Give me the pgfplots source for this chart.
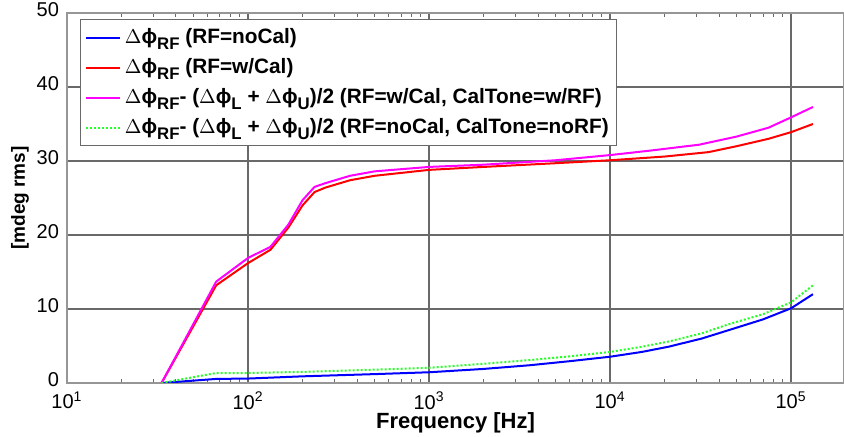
\documentclass[border=0pt]{standalone}
\usepackage{pgfplots}
\pgfplotsset{compat=1.18}
\usepackage{fontspec}
\setmainfont{Liberation Sans}
\newcommand\sub[1]{\raisebox{-0.5ex}{\fontsize{8.4}{9}\selectfont #1}}
\newcommand\dphi{\(\Delta\)}
\definecolor{gridgray}{RGB}{105,105,105}
\definecolor{boxgray}{RGB}{150,150,150}
\definecolor{lblue}{RGB}{0,0,255}
\definecolor{lred}{RGB}{255,0,0}
\definecolor{lmag}{RGB}{255,0,255}
\definecolor{lgreen}{RGB}{40,255,40}
\begin{document}
\begin{tikzpicture}
	\begin{axis}[name=ax, scale only axis, width=388.5pt, height=185pt,
		xmode=log, xmin=10, xmax=1.96e5, ymin=0, ymax=50,
		xtick={10,100,1000,10000,100000},
		xticklabels={10\textsuperscript{1},10\textsuperscript{2},10\textsuperscript{3},10\textsuperscript{4},10\textsuperscript{5}},
		ytick={0,10,20,30,40,50},
		minor xtick={20,30,40,50,60,70,80,90,200,300,400,500,600,700,800,900,2000,3000,4000,5000,6000,7000,8000,9000,20000,30000,40000,50000,60000,70000,80000,90000,200000},
		tick align=inside, major tick length=3.5pt, minor tick length=2.2pt,
		tick style={gridgray, line width=0.5pt},
		xmajorgrids, ymajorgrids,
		major grid style={gridgray, line width=0.8pt},
		axis line style={boxgray, line width=0.8pt},
		ticklabel style={font=\fontsize{10}{11}\selectfont},
		yticklabel style={xshift=-0.5pt, yshift=1.5pt},
		xticklabel style={yshift=-1pt},
		/pgf/number format/assume math mode=true,
		xlabel={\bfseries Frequency [Hz]}, ylabel={\bfseries [mdeg rms]},
		xlabel style={font=\fontsize{11}{12}\selectfont, yshift=5pt},
		ylabel style={font=\fontsize{9.5}{10}\selectfont, yshift=-3pt},
		legend cell align=left,
		legend style={at={(0.017,0.984)}, anchor=north west, draw=gridgray, line width=0.6pt, fill=white,
			font=\fontsize{10.4}{11}\bfseries\selectfont, row sep=2pt, inner xsep=2pt, inner ysep=2.5pt},
		every axis plot/.append style={line width=1pt},
	]
		\addplot[draw=lblue] coordinates {(33.3,0) (66.7,0.55) (100,0.6) (200,0.9) (500,1.2) (1000,1.45) (2000,1.9) (3600,2.4) (6000,2.95) (10000,3.55) (15000,4.2) (21000,4.9) (32000,6.0) (46000,7.2) (70000,8.6) (100000,10.1) (132000,12.0)};
		\addlegendentry{\dphi ϕ\sub{RF} (RF=noCal)}
		\addplot[draw=lred] coordinates {(33.3,0) (66.7,13.2) (100,16.2) (133,18.0) (167,21.0) (200,24.0) (233,25.8) (267,26.4) (366,27.4) (500,28.0) (1000,28.8) (2000,29.2) (5000,29.7) (10000,30.1) (20000,30.6) (35000,31.2) (50000,32.0) (75000,33.0) (100000,33.9) (132000,35.0)};
		\addlegendentry{\dphi ϕ\sub{RF} (RF=w/Cal)}
		\addplot[draw=lmag] coordinates {(33.3,0) (66.7,13.7) (100,16.9) (133,18.4) (167,21.4) (200,24.7) (233,26.5) (267,27.0) (366,28.0) (500,28.6) (1000,29.2) (2000,29.5) (5000,30.1) (10000,30.8) (16600,31.4) (31000,32.2) (50000,33.3) (75000,34.5) (100000,35.9) (132000,37.3)};
		\addlegendentry{\dphi ϕ\sub{RF}- (\dphi ϕ\sub{L} + \dphi ϕ\sub{U})/2 (RF=w/Cal, CalTone=w/RF)}
		\addplot[draw=lgreen, densely dotted] coordinates {(33.3,0) (66.7,1.35) (100,1.35) (200,1.5) (500,1.8) (1000,2.05) (2000,2.6) (3600,3.1) (6000,3.6) (10000,4.2) (15000,4.9) (21000,5.6) (32000,6.7) (46000,8.0) (70000,9.3) (100000,10.9) (132000,13.2)};
		\addlegendentry{\dphi ϕ\sub{RF}- (\dphi ϕ\sub{L} + \dphi ϕ\sub{U})/2 (RF=noCal, CalTone=noRF)}
	\end{axis}
	\pgfresetboundingbox
	\path (ax.south west) ++(-33.5pt,-27pt) rectangle ++(422pt,218.5pt);
\end{tikzpicture}
\end{document}
